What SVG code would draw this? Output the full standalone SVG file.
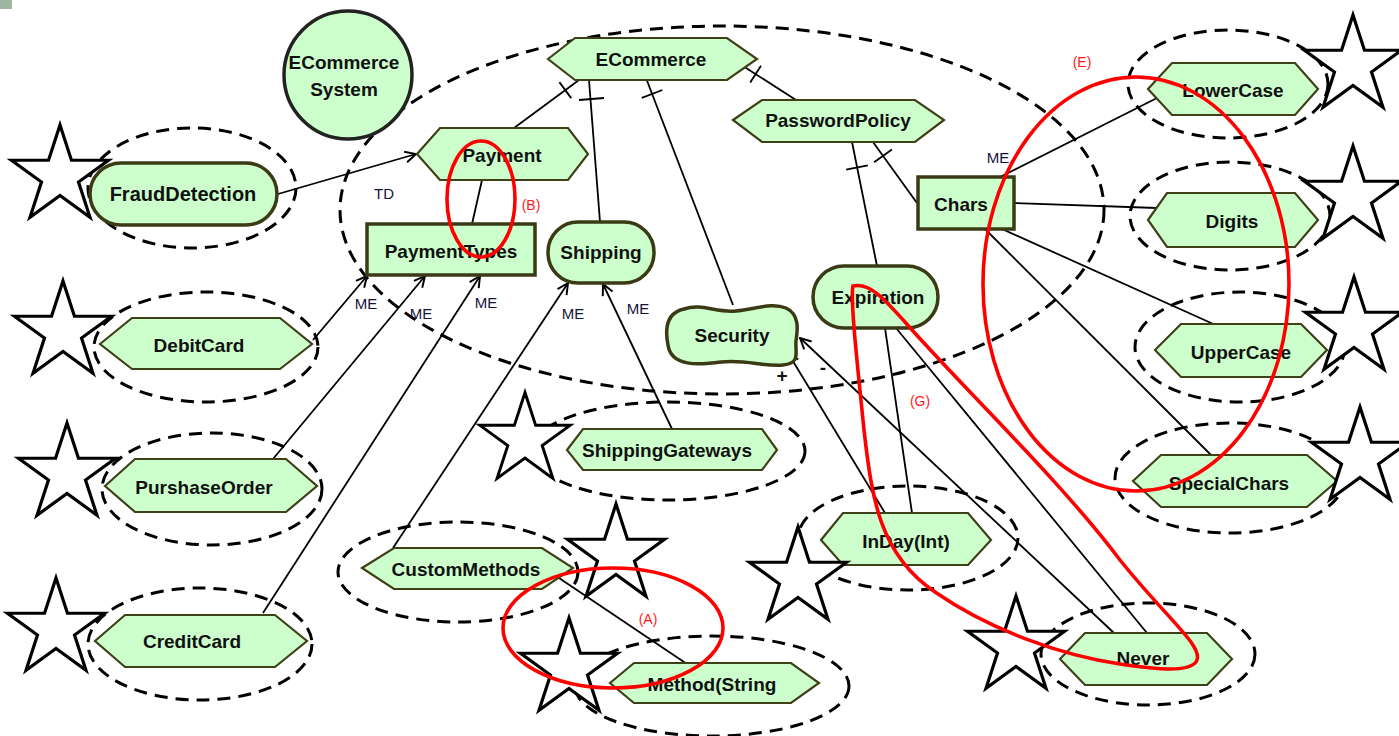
<svg xmlns="http://www.w3.org/2000/svg" width="1399" height="736" viewBox="0 0 1399 736">
<style>
.n{fill:#ccffcc;stroke:#3f3f18;stroke-width:2.2}
.nt{fill:#ccffcc;stroke:#3a3a14;stroke-width:3.5}
.lb{font-family:"Liberation Sans",Arial,sans-serif;font-weight:bold;font-size:19px;fill:#111;text-anchor:middle;dominant-baseline:central}
.me{font-family:"Liberation Sans",Arial,sans-serif;font-size:15px;fill:#14143a;text-anchor:middle;dominant-baseline:central}
.pm{font-family:"Liberation Sans",Arial,sans-serif;font-weight:bold;font-size:19px;fill:#111;text-anchor:middle;dominant-baseline:central}
.rl{font-family:"Liberation Sans",Arial,sans-serif;font-size:14px;fill:#ff1a1a;text-anchor:middle;dominant-baseline:central}
.de{fill:none;stroke:#000;stroke-width:3;stroke-dasharray:13 8}
.st{fill:#fff;stroke:#000;stroke-width:3.2;stroke-linejoin:miter}
.c{fill:none;stroke:#000;stroke-width:1.8}
.a{fill:none;stroke:#000;stroke-width:1.8;marker-end:url(#arr)}
.red{fill:none;stroke:#ff0000;stroke-width:3.6}
</style>
<defs>
<marker id="arr" viewBox="0 0 12 12" refX="11" refY="6" markerWidth="13" markerHeight="13" markerUnits="userSpaceOnUse" orient="auto">
<path d="M1,1 L11,6 L1,11" fill="none" stroke="#000" stroke-width="1.8"/>
</marker>
<polygon id="star" points="0,-51 11.45,-15.76 48.5,-15.76 18.52,6.02 29.99,41.26 0,19.48 -29.99,41.26 -18.52,6.02 -48.5,-15.76 -11.45,-15.76"/>
</defs>
<rect x="0" y="0" width="12" height="9" fill="#9fb59f"/>

<g id="scope">
<ellipse class="de" cx="722" cy="210" rx="382" ry="184"/>
</g>

<g id="groups">
<ellipse class="de" cx="192" cy="188" rx="104" ry="60"/>
<ellipse class="de" cx="206" cy="347" rx="112" ry="55"/>
<ellipse class="de" cx="212" cy="489" rx="110" ry="56"/>
<ellipse class="de" cx="200" cy="644" rx="112" ry="56"/>
<ellipse class="de" cx="668" cy="451" rx="137" ry="49"/>
<ellipse class="de" cx="458" cy="572" rx="120" ry="50"/>
<ellipse class="de" cx="712" cy="686" rx="137" ry="50"/>
<ellipse class="de" cx="908" cy="538" rx="110" ry="52"/>
<ellipse class="de" cx="1148" cy="654" rx="107" ry="51"/>
<ellipse class="de" cx="1228" cy="84" rx="100" ry="54"/>
<ellipse class="de" cx="1230" cy="216" rx="100" ry="54"/>
<ellipse class="de" cx="1240" cy="347" rx="105" ry="55"/>
<ellipse class="de" cx="1230" cy="478" rx="115" ry="55"/>
</g>

<g id="connectors">
<line class="c" x1="579" y1="80" x2="514" y2="128"/>
<line class="c" x1="559.4" y1="82.1" x2="571.2" y2="98.1"/>
<line class="c" x1="589" y1="80" x2="600" y2="222"/>
<line class="c" x1="579" y1="100" x2="604" y2="98"/>
<line class="c" x1="646" y1="78" x2="733" y2="305"/>
<line class="c" x1="641.8" y1="97.8" x2="662.4" y2="90"/>
<line class="c" x1="743" y1="66" x2="796" y2="100"/>
<line class="c" x1="750.2" y1="82.5" x2="761" y2="65.7"/>
<line class="c" x1="852" y1="142" x2="877" y2="266"/>
<line class="c" x1="846.2" y1="169.7" x2="867.8" y2="165.3"/>
<line class="c" x1="873" y1="142" x2="917" y2="203"/>
<line class="c" x1="874.1" y1="162.2" x2="891.9" y2="149.4"/>
<line class="c" x1="482" y1="180" x2="472" y2="224"/>
<line class="a" x1="278" y1="194" x2="416" y2="154"/>
<line class="a" x1="313" y1="340" x2="367" y2="276"/>
<line class="a" x1="273" y1="459" x2="425" y2="276"/>
<line class="a" x1="263" y1="613" x2="480" y2="276"/>
<line class="a" x1="393" y1="548" x2="568" y2="283"/>
<line class="a" x1="672" y1="429" x2="603" y2="284"/>
<line class="c" x1="1000" y1="177" x2="1157" y2="98"/>
<line class="c" x1="1014" y1="203" x2="1157" y2="208"/>
<line class="c" x1="1002" y1="229" x2="1220" y2="327"/>
<line class="c" x1="985" y1="229" x2="1212" y2="456"/>
<line class="c" x1="885" y1="328" x2="912" y2="513"/>
<line class="c" x1="896" y1="328" x2="1147" y2="633"/>
<line class="a" x1="885" y1="513" x2="788" y2="353"/>
<line class="a" x1="1114" y1="633" x2="800" y2="338"/>
<line class="c" x1="559" y1="578" x2="687" y2="664"/>
</g>

<g id="n-system"><circle cx="348" cy="75" r="64" fill="#ccffcc" stroke="#222" stroke-width="3.5"/>
<text class="lb" x="344" y="62">ECommerce</text><text class="lb" x="344" y="89">System</text></g>
<g id="n-ecommerce"><polygon class="n" points="548,59 575,38 727,38 757,59 727,80 575,80"/><text class="lb" x="651" y="59">ECommerce</text></g>
<g id="n-payment"><polygon class="n" points="417,154 440,128 568,128 588,154 568,180 440,180"/><text class="lb" x="502" y="155">Payment</text></g>
<g id="n-passwordpolicy"><polygon class="n" points="733,120 762,100 915,100 944,120 915,142 762,142"/><text class="lb" x="838" y="120">PasswordPolicy</text></g>
<g id="n-paymenttypes"><rect class="nt" x="367" y="224" width="168" height="51"/><text class="lb" x="451" y="251">PaymentTypes</text></g>
<g id="n-shipping"><rect class="nt" x="548" y="222" width="106" height="61" rx="30"/><text class="lb" x="601" y="252">Shipping</text></g>
<g id="n-security"><path class="nt" d="M684 309 C702 303 716 313 736 311 C756 309 772 302 786 308 C801 315 797 333 796 341 C795 353 801 363 783 365 C763 367 746 359 721 362 C699 365 671 367 668 345 C665 330 666 313 684 309 Z"/><text class="lb" x="732" y="335">Security</text></g>
<g id="n-expiration"><rect class="nt" x="813" y="266" width="125" height="62" rx="31"/><text class="lb" x="878" y="297">Expiration</text></g>
<g id="n-chars"><rect class="nt" x="918" y="177" width="96" height="52"/><text class="lb" x="961" y="204">Chars</text></g>
<g id="n-frauddetection"><rect class="nt" x="90" y="163" width="187" height="62" rx="31"/><text class="lb" x="183" y="194" style="font-size:20px">FraudDetection</text></g>
<g id="n-debitcard"><polygon class="n" points="100,344 132,318 280,318 312,344 280,369 132,369"/><text class="lb" x="199" y="345">DebitCard</text></g>
<g id="n-purshaseorder"><polygon class="n" points="105,486 135,459 286,459 317,486 286,512 135,512"/><text class="lb" x="204" y="487">PurshaseOrder</text></g>
<g id="n-creditcard"><polygon class="n" points="95,641 125,615 275,615 307,641 275,667 125,667"/><text class="lb" x="192" y="641">CreditCard</text></g>
<g id="n-shippinggateways"><polygon class="n" points="567,450 583,429 762,429 777,450 762,470 583,470"/><text class="lb" x="667" y="450">ShippingGateways</text></g>
<g id="n-custommethods"><polygon class="n" points="362,568 394,548 542,548 573,568 542,589 394,589"/><text class="lb" x="466" y="569">CustomMethods</text></g>
<g id="n-method"><polygon class="n" points="610,683 634,663 791,663 819,683 791,703 634,703"/><text class="lb" x="712" y="684">Method(String</text></g>
<g id="n-inday"><polygon class="n" points="821,540 843,513 968,513 991,540 968,565 843,565"/><text class="lb" x="906" y="541">InDay(Int)</text></g>
<g id="n-never"><polygon class="n" points="1060,659 1085,633 1207,633 1232,659 1207,685 1085,685"/><text class="lb" x="1143" y="658">Never</text></g>
<g id="n-lowercase"><polygon class="n" points="1148,89 1172,63 1295,63 1318,89 1295,115 1172,115"/><text class="lb" x="1233" y="90">LowerCase</text></g>
<g id="n-digits"><polygon class="n" points="1148,220 1167,193 1295,193 1318,220 1295,247 1167,247"/><text class="lb" x="1232" y="221">Digits</text></g>
<g id="n-uppercase"><polygon class="n" points="1155,350 1181,324 1301,324 1327,350 1301,377 1181,377"/><text class="lb" x="1241" y="352">UpperCase</text></g>
<g id="n-specialchars"><polygon class="n" points="1133,481 1161,455 1307,455 1337,481 1307,507 1161,507"/><text class="lb" x="1229" y="483">SpecialChars</text></g>

<g id="stars">
<use href="#star" class="st" transform="translate(60,176)"/>
<use href="#star" class="st" transform="translate(63,332)"/>
<use href="#star" class="st" transform="translate(67,474)"/>
<use href="#star" class="st" transform="translate(56,629)"/>
<use href="#star" class="st" transform="translate(525,440) scale(0.93)"/>
<use href="#star" class="st" transform="translate(616,555)"/>
<use href="#star" class="st" transform="translate(569,669)"/>
<use href="#star" class="st" transform="translate(798,578)"/>
<use href="#star" class="st" transform="translate(1016,647)"/>
<use href="#star" class="st" transform="translate(1353,66)"/>
<use href="#star" class="st" transform="translate(1353,197)"/>
<use href="#star" class="st" transform="translate(1354,328)"/>
<use href="#star" class="st" transform="translate(1360,458)"/>
</g>

<g id="labels">
<text class="me" x="384" y="193">TD</text>
<text class="me" x="366" y="303">ME</text>
<text class="me" x="421" y="313">ME</text>
<text class="me" x="486" y="302">ME</text>
<text class="me" x="573" y="313">ME</text>
<text class="me" x="638" y="308">ME</text>
<text class="me" x="998" y="157">ME</text>
<text class="pm" x="782" y="375">+</text>
<text class="pm" x="823" y="367">-</text>
</g>

<g id="annotations">
<ellipse class="red" cx="613" cy="628" rx="110" ry="60"/>
<text class="rl" x="648" y="619">(A)</text>
<ellipse class="red" cx="481" cy="199" rx="34" ry="58"/>
<text class="rl" x="531" y="205">(B)</text>
<ellipse class="red" cx="1136" cy="284" rx="153" ry="207"/>
<text class="rl" x="1082" y="62">(E)</text>
<path class="red" d="M853,286 C870,282 885,300 905,322 C960,385 1060,480 1120,560 C1168,620 1206,648 1196,662 C1188,672 1160,670 1120,664 C1060,655 990,630 935,592 C880,555 872,500 864,430 C858,370 850,300 853,286 Z"/>
<text class="rl" x="920" y="401">(G)</text>
</g>
</svg>
